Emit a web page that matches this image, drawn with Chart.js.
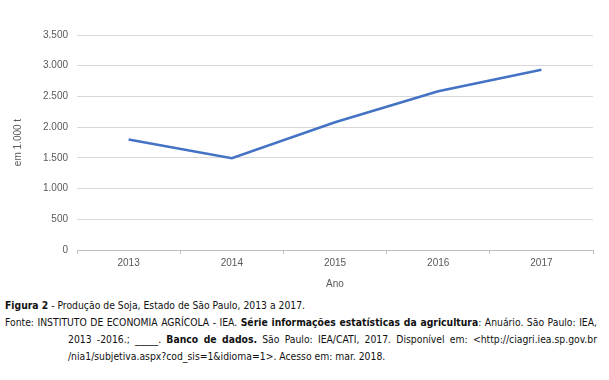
<!DOCTYPE html>
<html>
<head>
<meta charset="utf-8">
<script src="https://cdn.jsdelivr.net/npm/chart.js@4"></script>
<style>
  body { margin: 0; background: #fff; width: 609px; height: 380px; overflow: hidden; }
  #box { position: absolute; left: 0; top: 0; width: 609px; height: 296px; }
  #caption { position: absolute; left: 5px; top: 297px; width: 592px;
    font-family: "DejaVu Sans Condensed", "Liberation Sans", sans-serif; font-size: 10.3px; color: #111; line-height: 17px; }
  .ln { white-space: nowrap; }
  .just { text-align: justify; text-align-last: justify; white-space: normal; }
  .ind { padding-left: 63px; }
</style>
</head>
<body>
<div id="box"><canvas id="myChart"></canvas></div>
<div id="caption">
  <div class="ln"><b>Figura 2</b> - Produção de Soja, Estado de São Paulo, 2013 a 2017.</div>
  <div class="ln just">Fonte: INSTITUTO DE ECONOMIA AGRÍCOLA - IEA. <b>Série informações estatísticas da agricultura</b>: Anuário. São Paulo: IEA,</div>
  <div class="ln just ind">2013 -2016.; _____. <b>Banco de dados.</b> São Paulo: IEA/CATI, 2017. Disponível em: &lt;http://ciagri.iea.sp.gov.br</div>
  <div class="ln ind">/nia1/subjetiva.aspx?cod_sis=1&amp;idioma=1&gt;. Acesso em: mar. 2018.</div>
</div>
<script>
'use strict';

// data
let anos = ['2013', '2014', '2015', '2016', '2017'];
let producao = [1800, 1495, 2080, 2585, 2935];
let yTicks = [0, 500, 1000, 1500, 2000, 2500, 3000, 3500];

function formatBr( v ) {
  return String( v ).replace( /\B(?=(\d{3})+(?!\d))/g, '.' );
}

let ctx = document.getElementById( 'myChart' ).getContext( '2d' );

let myChart = new Chart( ctx, {
  type: 'line',
  data: {
    labels: anos,
    datasets: [{
      label: 'Produção',
      data: producao,
      borderColor: '#4472C4',
      borderWidth: 2.6,
      pointRadius: 0,
      tension: 0
    }]
  },
  options: {
    responsive: true,
    maintainAspectRatio: false,
    animation: false,
    layout: { padding: { left: 8, right: 16, top: 35, bottom: 2 } },
    plugins: { legend: { display: false }, tooltip: { enabled: false } },
    scales: {
      x: {
        offset: true,
        grid: { drawOnChartArea: false, color: '#bfbfbf', tickLength: 4, offset: true },
        border: { color: '#bfbfbf' },
        ticks: { color: '#595959', font: { family: 'Liberation Sans', size: 10 }, padding: 3 },
        title: { display: true, text: 'Ano', color: '#595959', font: { family: 'Liberation Sans', size: 10 }, padding: { top: 6 } }
      },
      y: {
        min: 0,
        max: 3500,
        afterBuildTicks: function( axis ) {
          axis.ticks = yTicks.map( function( v ) { return { value: v }; } );
        },
        grid: { color: '#d9d9d9', drawTicks: false },
        border: { display: false },
        ticks: {
          color: '#595959',
          font: { family: 'Liberation Sans', size: 10 },
          padding: 9,
          callback: function( v ) { return formatBr( v ); }
        },
        title: { display: true, text: 'em 1.000 t', color: '#595959', font: { family: 'Liberation Sans', size: 10 }, padding: { bottom: 10 } }
      }
    }
  }
} );
</script>
</body>
</html>
